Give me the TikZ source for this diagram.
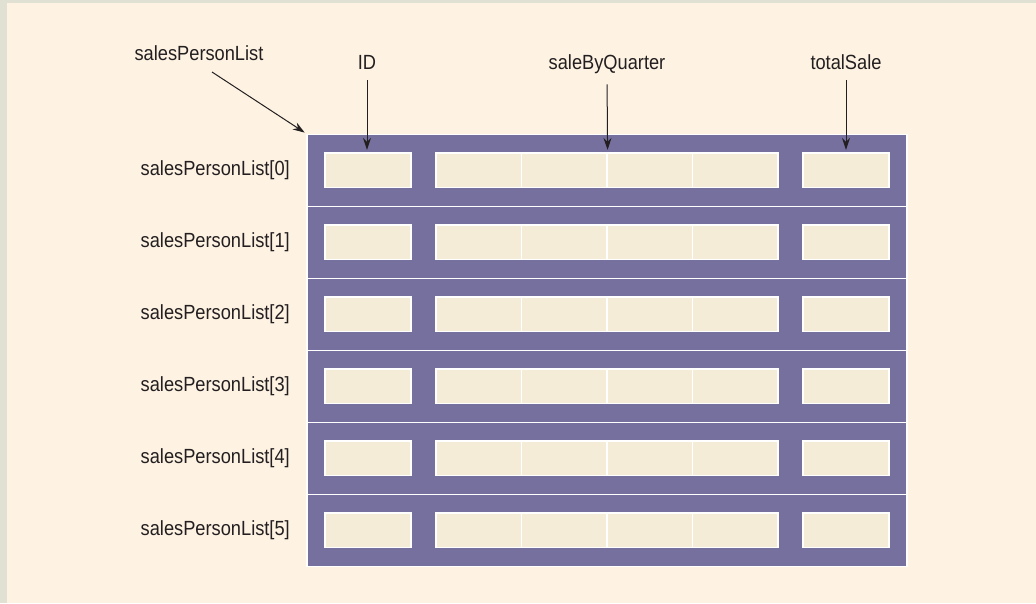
\documentclass[tikz,border=0pt]{standalone}
\usepackage{fontspec}
\setmainfont[FakeStretch=0.89]{Liberation Sans}
\usetikzlibrary{arrows.meta, positioning}
\definecolor{bgcream}{HTML}{FEF3E3}
\definecolor{framegray}{HTML}{E0E0D3}
\definecolor{rowpurple}{HTML}{76709F}
\definecolor{cellcream}{HTML}{F5ECD8}
\definecolor{inkgray}{HTML}{231F20}

\begin{document}
\begin{tikzpicture}[
  x=1pt, y=-1pt,
  lbl/.style={font=\fontsize{20.5}{22}\selectfont, text=inkgray, inner sep=2pt},
  rowbox/.style={draw=white, line width=1.2pt, fill=rowpurple, minimum width=600pt, minimum height=72pt, inner sep=0pt},
  cell/.style={draw=white, line width=1.2pt, fill=cellcream, minimum height=34.6pt, inner sep=0pt},
  arrow/.style={-{Stealth[length=12pt, width=8pt]}, line width=1pt, inkgray}
]

% Background
\fill[framegray] (0,0) rectangle (1036,603);
\fill[bgcream] (7,3) rectangle (1036,603);
\useasboundingbox (0,0) rectangle (1036,603);

% Rows of the array
\foreach \i in {0,...,5}{
  \node[rowbox] (row\i) at (607, {170.3+72*\i}) {};
  \node[cell, minimum width=86pt] (id\i) at (368, {170.3+72*\i}) {};
  \foreach \j in {0,...,3}
    \node[cell, minimum width=85.5pt] (q\i-\j) at ({478.75+85.5*\j}, {170.3+72*\i}) {};
  \node[cell, minimum width=86pt] (tot\i) at (846, {170.3+72*\i}) {};
  \node[lbl, anchor=east] (lbl\i) at (292, {170.3+72*\i}) {salesPersonList[\i]};
}

% Member labels
\node[lbl, anchor=base] (splbl) at (199, 60.7) {salesPersonList};
\node[lbl, anchor=base] (idlbl) at (367, 69.3) {ID};
\node[lbl, anchor=base] (sbqlbl) at (607, 69.3) {saleByQuarter};
\node[lbl, anchor=base] (totlbl) at (846, 69.3) {totalSale};

% Arrows
\coordinate (spstart) at (212, 72);
\draw[arrow, shorten >=2pt] (spstart) -- (row0.north west);
\draw[arrow, shorten <=8.7pt, shorten >=2.5pt] (idlbl.south) -- (idlbl.south |- id0.north);
\draw[arrow, shorten <=8.7pt, shorten >=2.5pt] (sbqlbl.south) -- (q0-1.north east);
\draw[arrow, shorten <=8.7pt, shorten >=2.5pt] (totlbl.south) -- (tot0.north);

\end{tikzpicture}
\end{document}
